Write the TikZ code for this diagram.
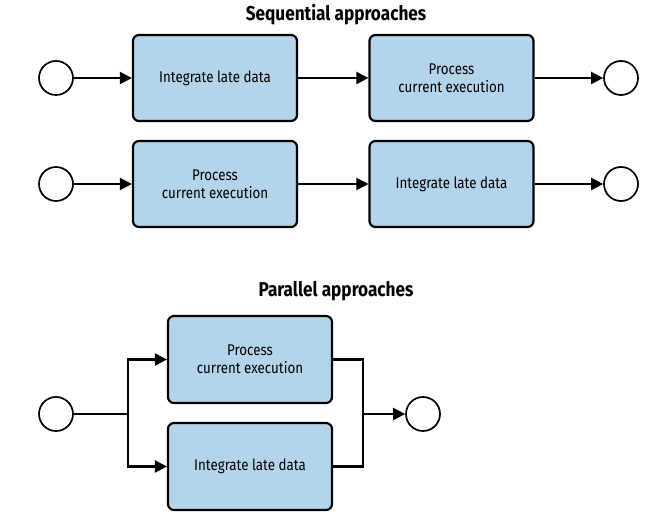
\documentclass[tikz,border=0pt]{standalone}
\usepackage{fontspec}
\setmainfont[FakeStretch=0.86]{Fira Sans}
\usetikzlibrary{arrows.meta}
\definecolor{boxblue}{HTML}{B3D4EA}
\tikzset{
  x=1pt, y=-1pt,
  task/.style={draw=black, line width=2.2pt, fill=boxblue, rounded corners=6pt,
    minimum width=164pt, minimum height=86pt, align=center, font=\fontsize{15.5}{18}\selectfont, inner sep=0pt},
  event/.style={draw=black, line width=1.7pt, fill=white, circle, minimum size=34pt, inner sep=0pt},
  flow/.style={line width=2.2pt, -{Triangle[length=12pt,width=12pt]}},
  plain/.style={line width=2.2pt},
  heading/.style={font=\bfseries\fontsize{20}{23}\selectfont}
}
\begin{document}
\begin{tikzpicture}
\useasboundingbox (0,0) rectangle (661,526);
\node[heading] (t1) at (336,15) {Sequential approaches};
% row 1
\node[event] (s1) at (56,78) {};
\node[task] (a1) at (215,78) {Integrate late data};
\node[task] (a2) at (451.5,78) {Process\\current execution};
\node[event] (e1) at (621,78) {};
\draw[flow] (s1) -- (a1);
\draw[flow] (a1) -- (a2);
\draw[flow] (a2) -- (e1);
% row 2
\node[event] (s2) at (56,184) {};
\node[task] (a3) at (215,184) {Process\\current execution};
\node[task] (a4) at (451.5,184) {Integrate late data};
\node[event] (e2) at (621,184) {};
\draw[flow] (s2) -- (a3);
\draw[flow] (a3) -- (a4);
\draw[flow] (a4) -- (e2);
% parallel
\node[heading] (t2) at (336,291) {Parallel approaches};
\node[event] (s3) at (56,414) {};
\node[task, minimum height=87pt] (p1) at (250,359.5) {Process\\current execution};
\node[task, minimum height=87pt] (p2) at (250,466.5) {Integrate late data};
\node[event] (e3) at (423,414) {};
\coordinate (split) at (128,414);
\coordinate (merge) at (363,414);
\draw[plain] (s3) -- (split);
\draw[flow] (split) |- (p1.west);
\draw[flow] (split) |- (p2.west);
\draw[plain] (p1.east) -| (merge);
\draw[plain] (p2.east) -| (merge);
\draw[flow] (merge) -- (e3);
\end{tikzpicture}
\end{document}
